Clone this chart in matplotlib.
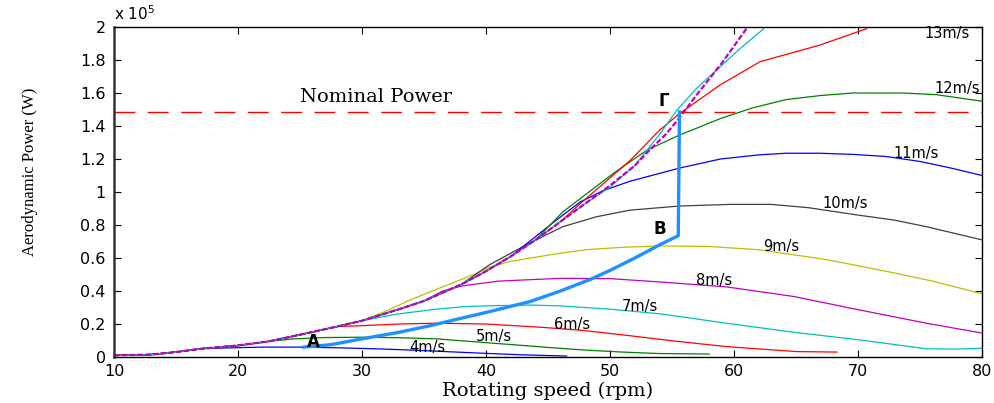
import matplotlib
matplotlib.use('Agg')
import matplotlib.pyplot as plt

# common low-speed part shared by all the curves (rpm, power x1e5 W)
env_rpm = [10, 13, 15, 17, 20, 22.5, 25, 28, 30, 33, 35, 38, 40, 42, 44, 46, 48, 50, 52]
env_p = [0.01, 0.015, 0.03, 0.05, 0.07, 0.095, 0.135, 0.185, 0.22, 0.29, 0.34, 0.44, 0.52, 0.61, 0.71, 0.82, 0.93, 1.04, 1.16]

wind = [4, 5, 6, 7, 8, 9, 10, 11, 12, 13, 14, 15]
n_env = [4, 6, 8, 9, 11, 9, 12, 14, 15, 16, 17, 19]
tail_rpm = [
    [19, 22, 25, 28, 31, 34, 37, 40, 43, 46.5],
    [24.5, 27, 30, 33, 36, 40, 43.5, 45, 48, 51, 54, 58],
    [30, 33, 36, 40, 44.5, 48, 51.5, 54.8, 59.4, 65, 68.3],
    [32.8, 36, 38.2, 40, 43.5, 46, 50, 54, 59.4, 64.8, 70, 75.5, 78, 80],
    [36.5, 38, 41, 46, 50, 54, 59.4, 64.8, 70, 75.5, 80],
    [32, 34, 36, 39, 40.3, 42, 45.2, 48, 51, 54, 58, 62, 67.5, 72.9, 76, 80],
    [40.3, 43.5, 46.2, 48.9, 51.6, 55.6, 59.7, 63, 66, 70, 72.9, 75.5, 80],
    [44, 45.5, 47.6, 49.5, 51.6, 55.6, 58.9, 62, 64.2, 66.9, 69.6, 72.3, 75, 77.5, 80],
    [46.2, 47.6, 50.3, 53, 55.6, 58.9, 61.5, 64.2, 67, 69.6, 73.6, 76.3, 80],
    [47.6, 51.6, 54, 55.6, 58.9, 62.1, 66.9, 70.7],
    [50, 52, 54, 55.4, 57, 58.9, 60.5, 62.4],
    [53, 54.5, 55.6, 57, 59, 61],
]
tail_p = [
    [0.055, 0.06, 0.06, 0.056, 0.05, 0.042, 0.032, 0.022, 0.013, 0.006],
    [0.11, 0.118, 0.12, 0.117, 0.11, 0.087, 0.067, 0.058, 0.042, 0.03, 0.021, 0.018],
    [0.19, 0.2, 0.205, 0.2, 0.18, 0.16, 0.13, 0.1, 0.063, 0.033, 0.03],
    [0.26, 0.29, 0.305, 0.31, 0.315, 0.31, 0.29, 0.262, 0.205, 0.15, 0.105, 0.05, 0.048, 0.053],
    [0.40, 0.43, 0.46, 0.477, 0.475, 0.455, 0.425, 0.367, 0.287, 0.205, 0.145],
    [0.28, 0.35, 0.41, 0.5, 0.545, 0.58, 0.62, 0.65, 0.665, 0.673, 0.67, 0.65, 0.59, 0.51, 0.46, 0.383],
    [0.56, 0.69, 0.79, 0.85, 0.89, 0.915, 0.925, 0.925, 0.905, 0.86, 0.83, 0.79, 0.71],
    [0.73, 0.82, 0.94, 1.01, 1.065, 1.145, 1.20, 1.225, 1.235, 1.235, 1.228, 1.215, 1.185, 1.145, 1.10],
    [0.88, 0.96, 1.115, 1.255, 1.345, 1.445, 1.51, 1.56, 1.585, 1.60, 1.60, 1.59, 1.55],
    [0.93, 1.19, 1.375, 1.475, 1.65, 1.79, 1.89, 1.99],
    [1.03, 1.16, 1.35, 1.497, 1.63, 1.76, 1.87, 1.99],
    [1.24, 1.35, 1.45, 1.59, 1.78, 1.99],
]
colors = ['#0000ff', '#008000', '#ff0000', '#00bfbf', '#bf00bf', '#bfbf00', '#404040',
          '#0000ff', '#008000', '#ff0000', '#00bfbf', '#bf00bf']

# where the "xm/s" labels sit
lab_rpm = [35.3, 40.6, 46.9, 52.4, 58.4, 63.8, 69.0, 74.7, 78.0, 77.2]
lab_p = [0.055, 0.125, 0.20, 0.305, 0.463, 0.668, 0.93, 1.235, 1.63, 1.96]

# MPPT trajectory A -> B -> Gamma
mppt_rpm = [25.3, 27.5, 30, 33, 35.5, 38, 40, 43.5, 46, 48.4, 50, 52, 54, 55.5, 55.6]
mppt_p = [0.06, 0.075, 0.11, 0.15, 0.19, 0.235, 0.27, 0.335, 0.40, 0.47, 0.525, 0.60, 0.68, 0.735, 1.485]

nominal = 1.485

fig = plt.figure(figsize=(9.94, 4.03), dpi=100)
ax = fig.add_axes([0.1147, 0.1141, 0.8733, 0.8189])

for i in range(len(wind)):
    x = env_rpm[:n_env[i]] + tail_rpm[i]
    y = env_p[:n_env[i]] + tail_p[i]
    if wind[i] == 15:
        ax.plot(x, y, color=colors[i], lw=1.6, ls=(0, (2.5, 1)))
    else:
        ax.plot(x, y, color=colors[i], lw=0.9)

ax.plot(mppt_rpm, mppt_p, color='#1e90ff', lw=2.4)
ax.axhline(nominal, color='#ff0000', lw=1.0, dashes=(15, 9))

for i in range(len(lab_rpm)):
    ax.text(lab_rpm[i], lab_p[i], '%dm/s' % wind[i], fontsize=10.5, ha='center', va='center',
            family='DejaVu Sans')

ax.text(25, 1.575, 'Nominal Power', fontsize=14, family='DejaVu Serif', va='center')
ax.text(26.1, 0.09, 'A', fontsize=12, fontweight='bold', ha='center', va='center')
ax.text(54.0, 0.775, 'B', fontsize=12, fontweight='bold', ha='center', va='center')
ax.text(54.3, 1.55, 'Γ', fontsize=12, fontweight='bold', ha='center', va='center')

ax.set_xlim(10, 80)
ax.set_ylim(0, 2)
ax.set_xticks([10, 20, 30, 40, 50, 60, 70, 80])
ax.set_yticks([0, 0.2, 0.4, 0.6, 0.8, 1, 1.2, 1.4, 1.6, 1.8, 2])
ax.set_yticklabels(['0', '0.2', '0.4', '0.6', '0.8', '1', '1.2', '1.4', '1.6', '1.8', '2'])
ax.tick_params(direction='in', top=True, right=True, length=5, labelsize=11.5)
ax.tick_params(axis='x', pad=5)
ax.tick_params(axis='y', pad=6)
for s in ax.spines.values():
    s.set_linewidth(1.0)
ax.spines['left'].set_linewidth(1.8)
ax.spines['left'].set_color('#333333')

ax.text(0.0, 1.012, r'x 10$^5$', transform=ax.transAxes, fontsize=11, va='bottom', ha='left')
ax.set_xlabel('Rotating speed (rpm)', fontsize=14, family='DejaVu Serif', labelpad=2)
ax.set_ylabel('Aerodynamic Power (W)', fontsize=12, family='Liberation Serif')
ax.yaxis.set_label_coords(-0.088, 0.56)

fig.savefig('out.png', dpi=100)
